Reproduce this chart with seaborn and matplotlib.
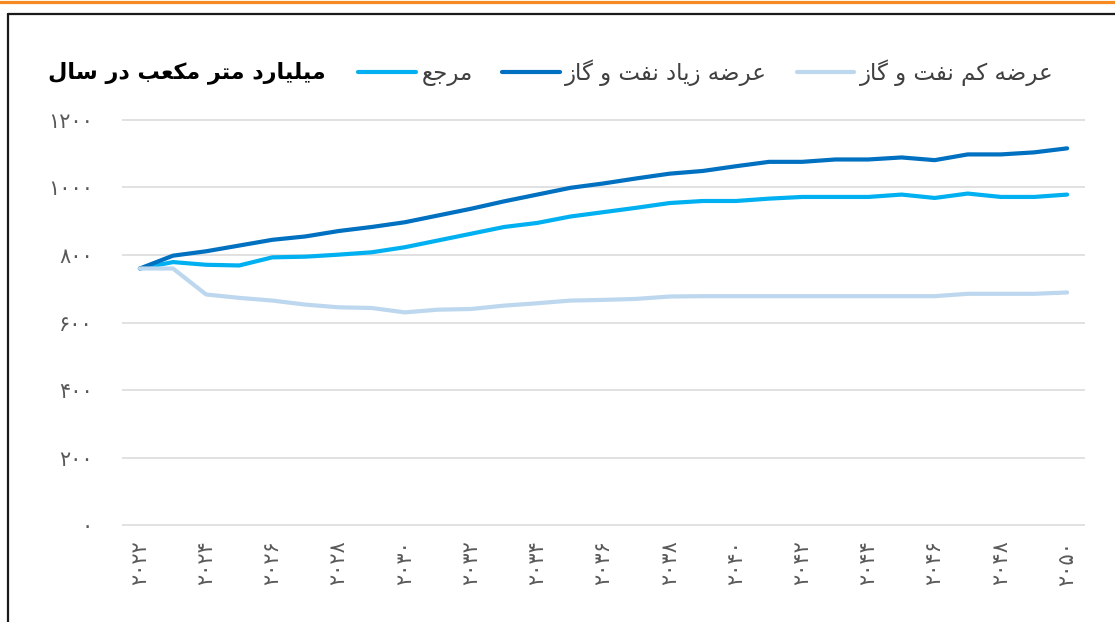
import matplotlib
matplotlib.use('Agg')
import matplotlib.pyplot as plt
from matplotlib.lines import Line2D
import pandas as pd
import seaborn as sns

# Data (billion cubic metres per year)
years = list(range(2022, 2051))
reference = [760, 779, 771, 769, 793, 795, 801, 808, 823, 843, 863, 883, 895, 914, 927,
             940, 954, 960, 960, 967, 972, 972, 972, 979, 969, 982, 972, 972, 979]
high_supply = [760, 798, 811, 828, 845, 855, 871, 883, 897, 917, 937, 959, 979, 999, 1012,
               1027, 1041, 1049, 1063, 1076, 1076, 1083, 1083, 1089, 1081, 1098, 1098, 1104, 1116]
low_supply = [760, 760, 683, 673, 665, 653, 645, 643, 630, 638, 640, 650, 657, 665, 667,
              670, 677, 678, 678, 678, 678, 678, 678, 678, 678, 685, 685, 685, 689]

series_names = ['مرجع', 'عرضه زیاد نفت و گاز', 'عرضه کم نفت و گاز']
series_colors = ['#00B0F0', '#0070C0', '#BDD7EE']
title = 'میلیارد متر مکعب در سال'
x_ticks = list(range(2022, 2051, 2))
y_ticks = [0, 200, 400, 600, 800, 1000, 1200]

# Minimal Arabic/Persian shaping: matplotlib has no shaping or bidi support
FORMS = {
    'ا': (0xFE8D, 0xFE8E), 'د': (0xFEA9, 0xFEAA), 'ر': (0xFEAD, 0xFEAE),
    'ز': (0xFEAF, 0xFEB0), 'و': (0xFEED, 0xFEEE),
    'ب': (0xFE8F, 0xFE90, 0xFE91, 0xFE92), 'ت': (0xFE95, 0xFE96, 0xFE97, 0xFE98),
    'ج': (0xFE9D, 0xFE9E, 0xFE9F, 0xFEA0), 'س': (0xFEB1, 0xFEB2, 0xFEB3, 0xFEB4),
    'ض': (0xFEBD, 0xFEBE, 0xFEBF, 0xFEC0), 'ع': (0xFEC9, 0xFECA, 0xFECB, 0xFECC),
    'ف': (0xFED1, 0xFED2, 0xFED3, 0xFED4), 'ک': (0xFB8E, 0xFB8F, 0xFB90, 0xFB91),
    'گ': (0xFB92, 0xFB93, 0xFB94, 0xFB95), 'ل': (0xFEDD, 0xFEDE, 0xFEDF, 0xFEE0),
    'م': (0xFEE1, 0xFEE2, 0xFEE3, 0xFEE4), 'ن': (0xFEE5, 0xFEE6, 0xFEE7, 0xFEE8),
    'ه': (0xFEE9, 0xFEEA, 0xFEEB, 0xFEEC), 'ی': (0xFBFC, 0xFBFD, 0xFBFE, 0xFBFF),
}


def shape(text):
    out = []
    for i, ch in enumerate(text):
        if ch not in FORMS:
            out.append(ch)
            continue
        prev = text[i - 1] if i > 0 else ''
        nxt = text[i + 1] if i + 1 < len(text) else ''
        joins_prev = prev in FORMS and len(FORMS[prev]) == 4
        joins_next = nxt in FORMS and len(FORMS[ch]) == 4
        f = FORMS[ch]
        if joins_prev and joins_next:
            out.append(chr(f[3]))
        elif joins_prev:
            out.append(chr(f[1]))
        elif joins_next:
            out.append(chr(f[2]))
        else:
            out.append(chr(f[0]))
    return ''.join(reversed(out))


def fa_digits(n):
    return str(n).translate(str.maketrans('0123456789', '۰۱۲۳۴۵۶۷۸۹'))


df = pd.DataFrame({
    'year': years * 3,
    'value': reference + high_supply + low_supply,
    'series': [series_names[0]] * len(years) + [series_names[1]] * len(years)
              + [series_names[2]] * len(years),
})

sns.set_style('white')
plt.rcParams['font.family'] = ['DejaVu Sans']

fig = plt.figure(figsize=(11.15, 6.22), dpi=100)
W, H = 1115, 622
ax = fig.add_axes([122 / W, (H - 526.7) / H, (1085 - 122) / W, (526.7 - 118.3) / H])

sns.lineplot(data=df, x='year', y='value', hue='series', hue_order=series_names,
             palette=series_colors, linewidth=3.0, ax=ax, legend=False,
             solid_capstyle='round')

ax.set_xlim(2021.46, 2050.54)
ax.set_ylim(-5, 1205)
ax.set_xticks(x_ticks)
ax.set_xticklabels([fa_digits(y) for y in x_ticks], rotation=90, fontsize=15, color='#595959')
ax.set_yticks(y_ticks)
ax.set_yticklabels([fa_digits(v) for v in y_ticks], fontsize=15, color='#595959')
ax.tick_params(axis='both', length=0)
ax.tick_params(axis='y', pad=21)
ax.tick_params(axis='x', pad=10)
ax.yaxis.grid(True, color='#D9D9D9', linewidth=1.1)
ax.xaxis.grid(False)
for s in ax.spines.values():
    s.set_visible(False)
ax.set_xlabel('')
ax.set_ylabel('')

# title and legend
fig.text(48 / W, 1 - 73 / H, shape(title), fontsize=16, fontweight='bold',
         ha='left', va='center', color='black')
handles = [Line2D([0], [0], color=c, lw=3.0, solid_capstyle='round') for c in series_colors]
fig.legend(handles, [shape(n) for n in series_names], ncol=3, frameon=False,
           loc='center left', bbox_to_anchor=(340 / W, 1 - 73 / H), fontsize=16.5,
           handlelength=2.5, handletextpad=0.25, columnspacing=1.3, labelcolor='#404040',
           borderpad=0.3)

# orange top rule and black frame
fig.add_artist(Line2D([0, 1], [1 - 1.5 / H] * 2, color='#F58A20', lw=2.3,
                      transform=fig.transFigure))
fig.add_artist(Line2D([8 / W, 1], [1 - 13.5 / H] * 2, color='#1A1A1A', lw=1.6,
                      transform=fig.transFigure))
fig.add_artist(Line2D([8 / W, 8 / W], [1 - 13.5 / H, 0], color='#1A1A1A', lw=1.6,
                      transform=fig.transFigure))

fig.savefig('out.png', dpi=100)
